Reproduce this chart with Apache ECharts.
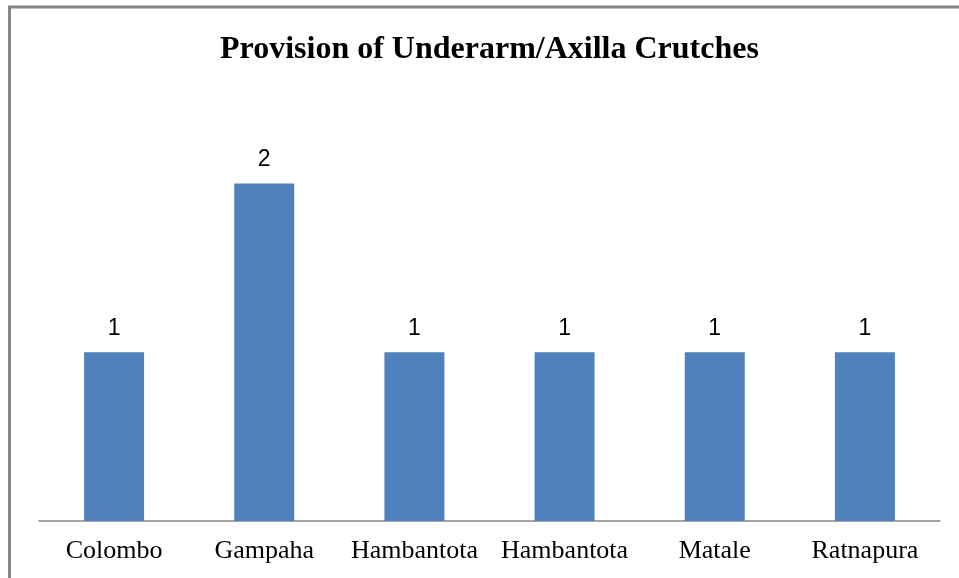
<!DOCTYPE html>
<html><head><meta charset="utf-8">
<script src="https://cdn.jsdelivr.net/npm/echarts@6/dist/echarts.min.js"></script>
<style>html,body{margin:0;padding:0;background:#fff}#c{width:959px;height:578px}</style>
</head><body><div id="c"></div>
<script>
const titleText = 'Provision of Underarm/Axilla Crutches';
const categories = ['Colombo', 'Gampaha', 'Hambantota', 'Hambantota', 'Matale', 'Ratnapura'];
const values = [1, 2, 1, 1, 1, 1];

const chart = echarts.init(document.getElementById('c'), null, {renderer: 'canvas'});
chart.setOption({
  animation: false,
  backgroundColor: '#fff',
  graphic: [{
    type: 'rect', silent: true,
    shape: {x: 9.5, y: 7, width: 1200, height: 1200},
    style: {fill: 'none', stroke: '#868686', lineWidth: 3}
  }],
  title: {
    text: titleText, left: 215, top: 29,
    textStyle: {fontFamily: '"Liberation Serif", "Times New Roman", serif', fontWeight: 'bold', fontSize: 32, color: '#000'}
  },
  grid: {left: 39, right: 19, top: 99, bottom: 57, containLabel: false},
  xAxis: {
    type: 'category', data: categories,
    axisLine: {lineStyle: {color: '#868686', width: 1.5}},
    axisTick: {show: false},
    axisLabel: {interval: 0, margin: 17, fontFamily: '"Liberation Serif", "Times New Roman", serif', fontSize: 26, color: '#000'}
  },
  yAxis: {
    type: 'value', min: 0, max: 2.5, interval: 0.5,
    show: false, splitLine: {show: false}
  },
  series: [{
    type: 'bar', data: values, barWidth: 60,
    itemStyle: {color: '#4F81BD'},
    label: {show: true, position: 'top', distance: 12, fontFamily: '"Liberation Sans", Arial, sans-serif', fontSize: 23, color: '#000'}
  }]
});
</script></body></html>
